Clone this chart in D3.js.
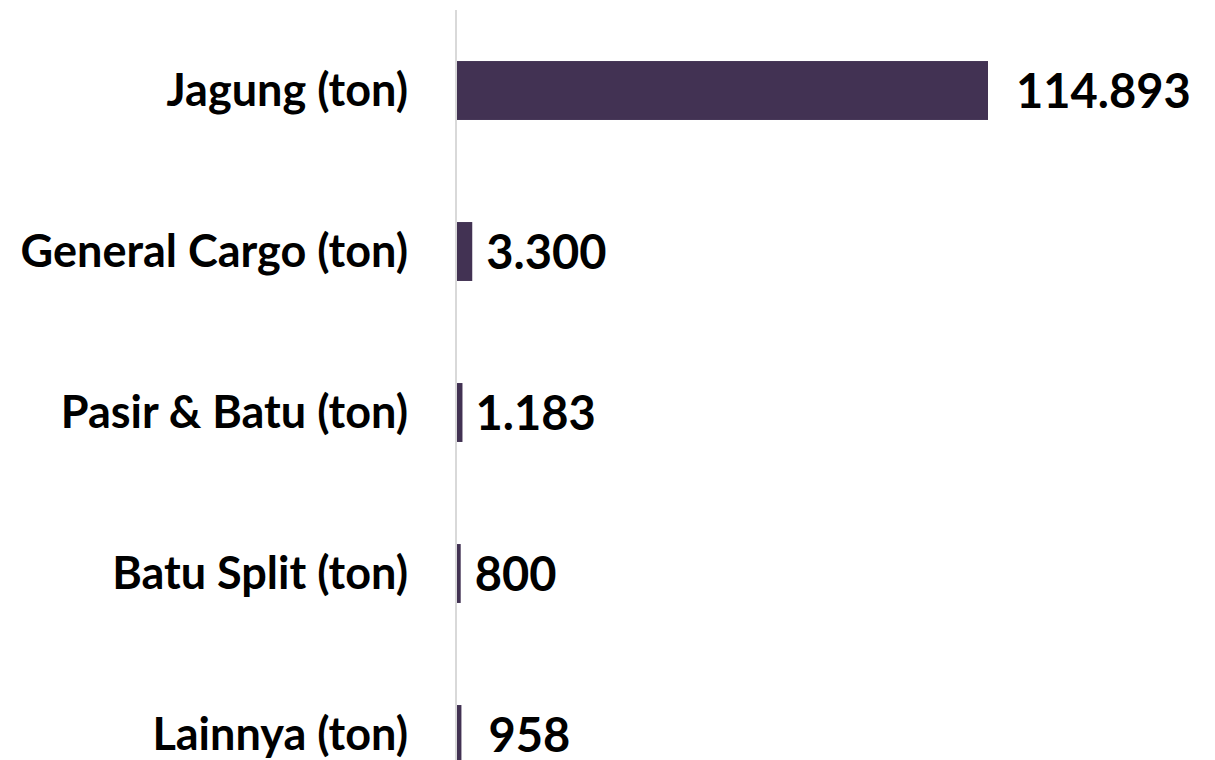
<!DOCTYPE html>
<html>
<head>
<meta charset="utf-8">
<script src="https://cdn.jsdelivr.net/npm/d3@7"></script>
<style>
  body { margin: 0; background: #fff; }
  text { font-family: Lato, "Open Sans", sans-serif; font-weight: bold; fill: #000; }
</style>
</head>
<body>
<div id="chart"></div>
<script>
// data
var categories = ["Jagung (ton)", "General Cargo (ton)", "Pasir & Batu (ton)", "Batu Split (ton)", "Lainnya (ton)"];
var values = [114893, 3300, 1183, 800, 958];
var valueLabels = ["114.893", "3.300", "1.183", "800", "958"];

// small horizontal nudges of the value labels (they sit a bit unevenly)
var labelGap = [28, 14, 13, 14, 27];

var width = 1215, height = 760;

var svg = d3.select("#chart")
  .append("svg")
    .attr("width", width)
    .attr("height", height);

var x = d3.scaleLinear()
  .domain([0, d3.max(values)])
  .range([457, 988]);

var y = d3.scaleBand()
  .domain(categories)
  .range([10, 815])
  .paddingInner(0.634)
  .paddingOuter(0.317);

// bars
svg.selectAll("rect.bar")
  .data(values)
  .enter()
  .append("rect")
    .attr("class", "bar")
    .attr("x", x(0))
    .attr("y", function(d, i) { return y(categories[i]); })
    .attr("width", function(d) { return x(d) - x(0); })
    .attr("height", y.bandwidth())
    .style("fill", "#423253");

// vertical axis line
svg.append("line")
  .attr("x1", 456).attr("x2", 456)
  .attr("y1", 10).attr("y2", height)
  .style("stroke", "#d9d9d9")
  .style("stroke-width", 2);

// category labels
svg.selectAll("text.cat")
  .data(categories)
  .enter()
  .append("text")
    .attr("class", "cat")
    .attr("x", 408)
    .attr("y", function(d) { return y(d) + y.bandwidth() / 2; })
    .attr("dy", "0.35em")
    .style("text-anchor", "end")
    .style("font-size", "45px")
    .text(function(d) { return d; });

// value labels
svg.selectAll("text.val")
  .data(values)
  .enter()
  .append("text")
    .attr("class", "val")
    .attr("x", function(d, i) { return x(d) + labelGap[i]; })
    .attr("y", function(d, i) { return y(categories[i]) + y.bandwidth() / 2 + 1; })
    .attr("dy", "0.35em")
    .style("font-size", "47px")
    .text(function(d, i) { return valueLabels[i]; });
</script>
</body>
</html>
